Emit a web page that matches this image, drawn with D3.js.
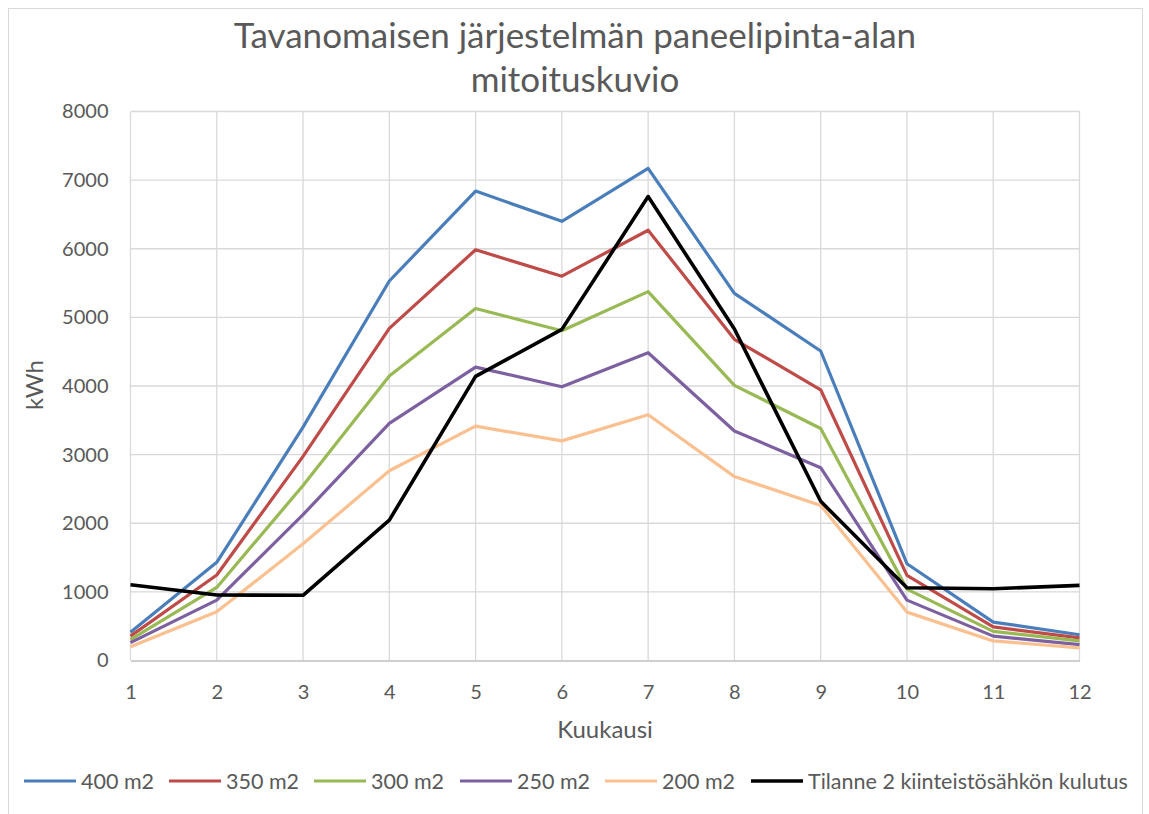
<!DOCTYPE html>
<html>
<head>
<meta charset="utf-8">
<script src="https://cdn.jsdelivr.net/npm/d3@7"></script>
<style>
  body { margin: 0; background: #fff; }
  svg { font-family: Lato, "Open Sans", sans-serif; }
</style>
</head>
<body>
<svg width="1149" height="814"></svg>
<script>
// kuukaudet ja sarjat (kWh)
var months = [1, 2, 3, 4, 5, 6, 7, 8, 9, 10, 11, 12];
var yTicks = [0, 1000, 2000, 3000, 4000, 5000, 6000, 7000, 8000];
var s400 = [410, 1430, 3400, 5530, 6840, 6400, 7170, 5350, 4510, 1410, 560, 375];
var s350 = [355, 1245, 2975, 4840, 5985, 5600, 6270, 4680, 3945, 1240, 490, 330];
var s300 = [305, 1065, 2550, 4145, 5130, 4805, 5375, 4010, 3380, 1040, 425, 285];
var s250 = [260, 880, 2125, 3455, 4275, 3990, 4485, 3345, 2810, 880, 355, 230];
var s200 = [200, 710, 1700, 2765, 3415, 3200, 3580, 2680, 2260, 705, 285, 185];
var kulutus = [1105, 955, 950, 2045, 4140, 4825, 6760, 4830, 2320, 1060, 1045, 1095];

var seriesNames = ["400 m2", "350 m2", "300 m2", "250 m2", "200 m2", "Tilanne 2 kiinteistösähkön kulutus"];
var seriesValues = [s400, s350, s300, s250, s200, kulutus];
var colors = ["#4a7ebb", "#be4b48", "#98b954", "#7d60a0", "#fac090", "#000000"];

var svg = d3.select("svg");
var textColor = "#595959";

// kehys
svg.append("rect").attr("x", 8.5).attr("y", 8.5).attr("width", 1134).attr("height", 820)
    .attr("fill", "none").attr("stroke", "#d9d9d9");

var x = d3.scaleLinear().domain([1, 12]).range([130.5, 1079.5]);
var y = d3.scaleLinear().domain([0, 8000]).range([660.5, 111.5]);

// ruudukko
svg.append("g").selectAll("line").data(yTicks.slice(1)).enter().append("line")
    .attr("x1", x(1)).attr("x2", x(12))
    .attr("y1", function (d) { return y(d); }).attr("y2", function (d) { return y(d); })
    .attr("stroke", "#d9d9d9").attr("stroke-width", 1.3);
svg.append("g").selectAll("line").data(months).enter().append("line")
    .attr("x1", function (d) { return x(d); }).attr("x2", function (d) { return x(d); })
    .attr("y1", y(0)).attr("y2", y(8000))
    .attr("stroke", "#d9d9d9").attr("stroke-width", 1.3);

// akselit
var yAxis = svg.append("g").attr("transform", "translate(" + x(1) + ",0)")
    .call(d3.axisLeft(y).tickValues(yTicks).tickSize(0).tickPadding(22).tickFormat(d3.format("d")))
    .attr("font-family", null).attr("font-size", null);
yAxis.select(".domain").remove();
yAxis.selectAll("text").attr("fill", textColor).style("font-size", "20px");

var xAxis = svg.append("g").attr("transform", "translate(0," + y(0) + ")")
    .call(d3.axisBottom(x).tickValues(months).tickSize(0).tickPadding(24).tickFormat(d3.format("d")))
    .attr("font-family", null).attr("font-size", null);
xAxis.select(".domain").attr("stroke", "#bfbfbf").attr("stroke-width", 1.5);
xAxis.selectAll("text").attr("fill", textColor).style("font-size", "20px");

// viivat
var line = d3.line()
    .x(function (d, i) { return x(months[i]); })
    .y(function (d) { return y(d); });

svg.append("g").selectAll("path").data(seriesValues).enter().append("path")
    .attr("d", line)
    .attr("fill", "none")
    .attr("stroke", function (d, i) { return colors[i]; })
    .attr("stroke-width", function (d, i) { return i == 5 ? 3.6 : 3.2; })
    .attr("stroke-linejoin", "round");

// otsikot
svg.append("text").attr("x", 575).attr("y", 48).attr("text-anchor", "middle")
    .attr("fill", textColor).style("font-size", "35px")
    .text("Tavanomaisen järjestelmän paneelipinta-alan");
svg.append("text").attr("x", 575).attr("y", 92).attr("text-anchor", "middle")
    .attr("fill", textColor).style("font-size", "35px")
    .text("mitoituskuvio");

svg.append("text").attr("x", 605).attr("y", 738).attr("text-anchor", "middle")
    .attr("fill", textColor).style("font-size", "24px").text("Kuukausi");
svg.append("text").attr("transform", "translate(43,385) rotate(-90)").attr("text-anchor", "middle")
    .attr("fill", textColor).style("font-size", "24px").text("kWh");

// selite
var legendX = [24, 169, 314, 460, 605, 751];
var legend = svg.append("g").selectAll("g").data(seriesNames).enter().append("g")
    .attr("transform", function (d, i) { return "translate(" + legendX[i] + ",781)"; });
legend.append("line").attr("x1", 0).attr("x2", 52)
    .attr("stroke", function (d, i) { return colors[i]; })
    .attr("stroke-width", function (d, i) { return i == 5 ? 3.6 : 3.2; });
legend.append("text").attr("x", 57).attr("dy", "0.35em")
    .attr("fill", textColor).style("font-size", "21.5px")
    .text(function (d) { return d; });
</script>
</body>
</html>
